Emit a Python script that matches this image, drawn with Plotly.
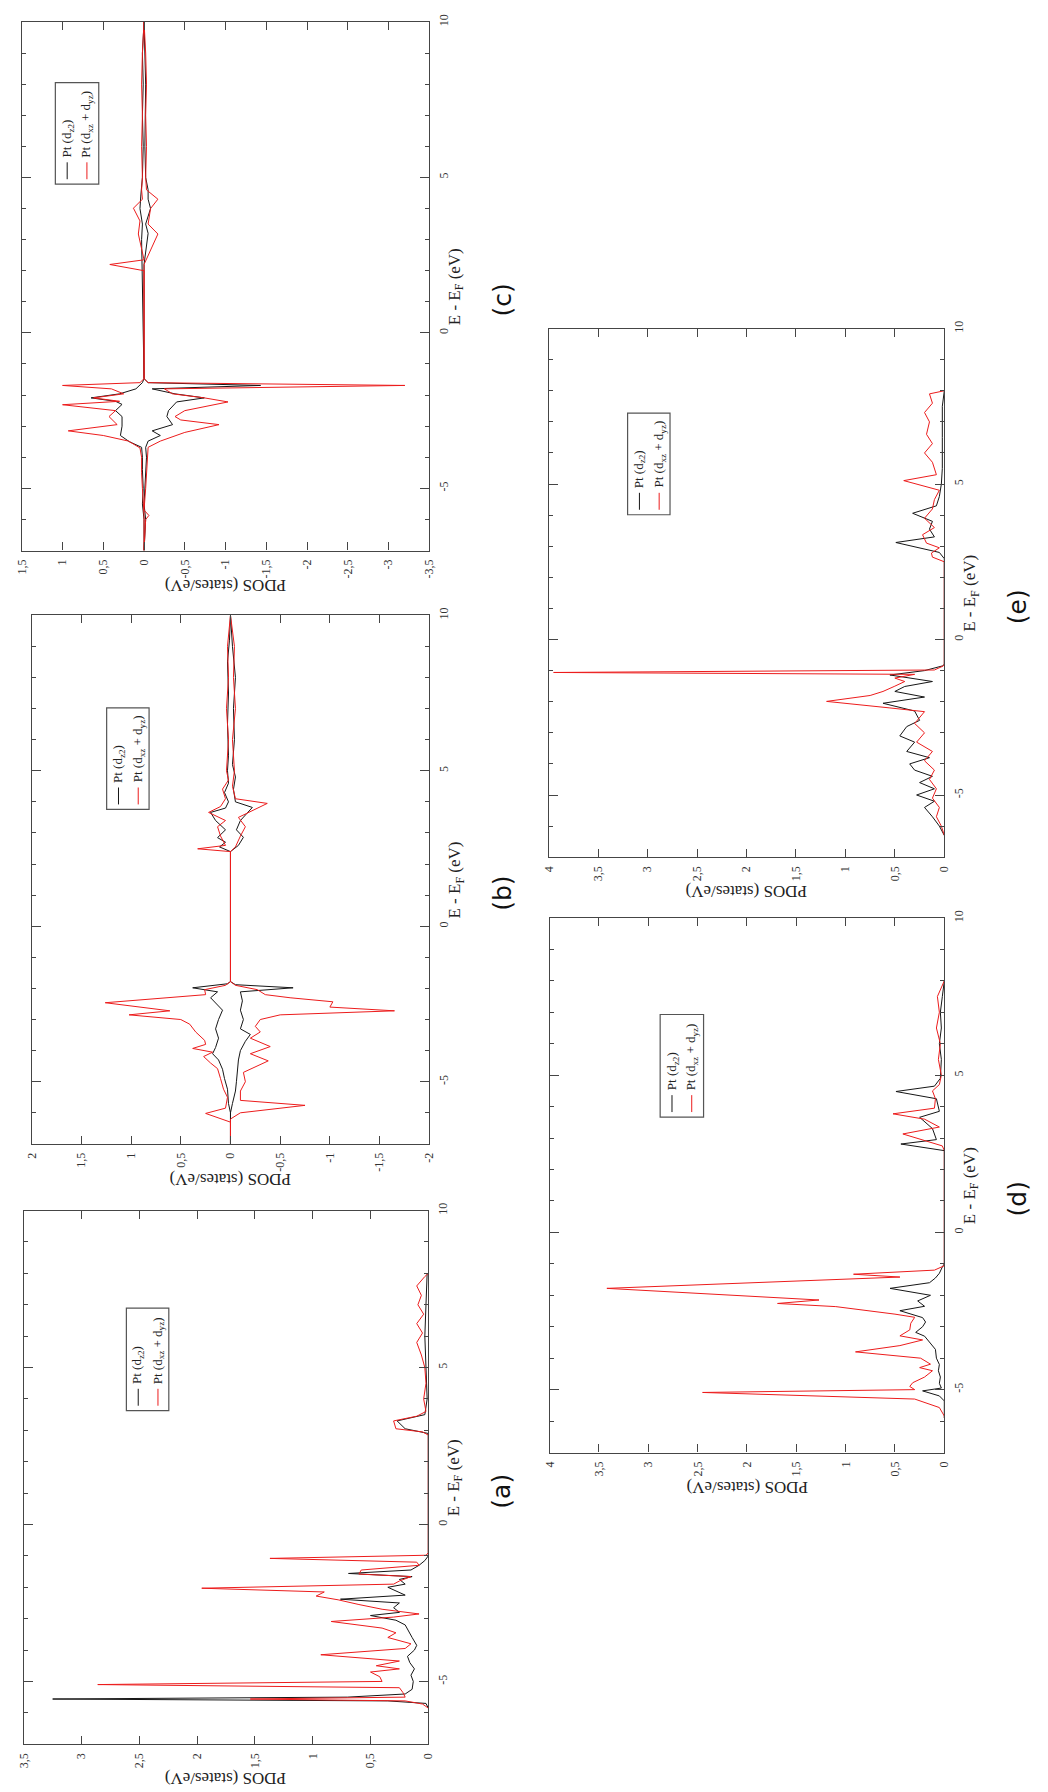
import plotly.graph_objects as go

W, H = 1048, 1792

# ---------------- data (energy E - E_F in eV, PDOS in states/eV) ----------------
# panel (a)
a_dz2 = [(-5.85, 0.0), (-5.70, 0.02), (-5.62, 0.35), (-5.56, 3.25), (-5.50, 0.7), (-5.40, 0.2), (-5.25, 0.14),
         (-5.00, 0.13), (-4.80, 0.15), (-4.60, 0.12), (-4.40, 0.16), (-4.20, 0.18), (-4.00, 0.12), (-3.85, 0.10),
         (-3.60, 0.14), (-3.40, 0.17), (-3.20, 0.20), (-3.05, 0.28), (-2.90, 0.50), (-2.80, 0.25), (-2.65, 0.30),
         (-2.50, 0.25), (-2.38, 0.76), (-2.25, 0.20), (-2.10, 0.30), (-2.00, 0.35), (-1.90, 0.20), (-1.75, 0.25),
         (-1.66, 0.14), (-1.56, 0.69), (-1.45, 0.15), (-1.30, 0.08), (-1.15, 0.03), (-1.00, 0.0), (2.90, 0.0),
         (3.05, 0.20), (3.30, 0.27), (3.50, 0.03), (4.00, 0.01), (5.00, 0.02), (6.00, 0.03), (7.00, 0.02), (8.00, 0.01)]
a_dxz = [(-5.85, 0.0), (-5.72, 0.05), (-5.62, 0.2), (-5.56, 1.54), (-5.50, 0.2), (-5.35, 0.22), (-5.2, 0.25),
         (-5.1, 2.86), (-5.0, 0.4), (-4.85, 0.42), (-4.7, 0.5), (-4.6, 0.25), (-4.5, 0.45), (-4.35, 0.25),
         (-4.15, 0.93), (-3.95, 0.2), (-3.8, 0.15), (-3.6, 0.35), (-3.45, 0.28), (-3.3, 0.4), (-3.09, 0.84),
         (-2.95, 0.3), (-2.85, 0.08), (-2.7, 0.4), (-2.55, 0.6), (-2.4, 0.78), (-2.28, 0.97), (-2.15, 0.9),
         (-2.03, 1.96), (-1.9, 0.3), (-1.8, 0.25), (-1.66, 0.15), (-1.58, 0.6), (-1.45, 0.58), (-1.3, 0.08),
         (-1.2, 0.1), (-1.08, 1.37), (-0.98, 0.02), (-0.9, 0.0), (2.85, 0.0), (2.95, 0.05), (3.05, 0.28),
         (3.3, 0.3), (3.45, 0.1), (3.6, 0.02), (4.0, 0.04), (4.5, 0.02), (5.0, 0.03), (5.4, 0.06), (5.8, 0.1),
         (6.1, 0.05), (6.4, 0.1), (6.7, 0.04), (7.0, 0.09), (7.3, 0.06), (7.6, 0.1), (7.9, 0.03), (8.0, 0.0)]

# panel (b)  (spin up > 0, spin down < 0)
b_dz2_up = [(-7.0, 0.0), (-6.0, 0.0), (-5.7, 0.02), (-5.24, 0.03), (-4.9, 0.06), (-4.6, 0.08), (-4.3, 0.12),
            (-4.1, 0.18), (-3.9, 0.15), (-3.6, 0.12), (-3.3, 0.15), (-3.0, 0.12), (-2.7, 0.08), (-2.45, 0.15),
            (-2.3, 0.2), (-2.11, 0.13), (-1.98, 0.38), (-1.85, 0.03), (-1.78, 0.0), (2.4, 0.0), (2.55, 0.11),
            (2.7, 0.05), (2.85, 0.13), (3.1, 0.05), (3.4, 0.15), (3.66, 0.2), (3.8, 0.05), (4.0, 0.02),
            (4.3, 0.06), (4.6, 0.02), (5.0, 0.03), (5.5, 0.02), (6.5, 0.03), (7.5, 0.02), (8.5, 0.03),
            (9.2, 0.01), (10.0, 0.0)]
b_dz2_dn = [(-7.0, 0.0), (-6.0, 0.0), (-5.7, -0.02), (-5.3, -0.05), (-5.0, -0.06), (-4.6, -0.07), (-4.3, -0.08),
            (-4.0, -0.1), (-3.7, -0.15), (-3.48, -0.2), (-3.3, -0.1), (-3.0, -0.13), (-2.7, -0.1), (-2.4, -0.12),
            (-2.11, -0.1), (-1.98, -0.63), (-1.88, -0.05), (-1.78, 0.0), (2.4, 0.0), (2.6, -0.08), (2.86, -0.13),
            (3.1, -0.06), (3.4, -0.1), (3.82, -0.22), (4.0, -0.05), (4.4, -0.03), (4.8, -0.05), (5.2, -0.02),
            (6.0, -0.04), (7.0, -0.03), (8.0, -0.05), (9.0, -0.02), (10.0, 0.0)]
b_dxz_up = [(-7.0, 0.0), (-6.3, 0.0), (-6.02, 0.25), (-5.85, 0.05), (-5.5, 0.03), (-5.24, 0.07), (-4.9, 0.1),
            (-4.58, 0.13), (-4.4, 0.2), (-4.19, 0.27), (-4.05, 0.18), (-3.93, 0.38), (-3.8, 0.25), (-3.67, 0.26),
            (-3.4, 0.35), (-3.15, 0.41), (-3.0, 0.5), (-2.85, 1.02), (-2.72, 0.61), (-2.46, 1.26), (-2.2, 0.25),
            (-2.04, 0.26), (-1.9, 0.05), (-1.78, 0.0), (2.4, 0.0), (2.49, 0.33), (2.6, 0.05), (2.9, 0.1),
            (3.2, 0.13), (3.4, 0.05), (3.66, 0.22), (3.85, 0.1), (4.1, 0.05), (4.41, 0.08), (4.7, 0.02),
            (5.0, 0.04), (6.0, 0.02), (7.0, 0.04), (8.0, 0.02), (9.0, 0.03), (10.0, 0.0)]
b_dxz_dn = [(-7.0, 0.0), (-6.2, 0.0), (-6.0, -0.1), (-5.76, -0.75), (-5.6, -0.1), (-5.3, -0.1), (-5.0, -0.15),
            (-4.7, -0.13), (-4.33, -0.38), (-4.1, -0.2), (-3.87, -0.4), (-3.6, -0.2), (-3.4, -0.3), (-3.22, -0.25),
            (-3.0, -0.3), (-2.85, -0.5), (-2.72, -1.65), (-2.6, -1.0), (-2.43, -1.03), (-2.3, -0.6), (-2.2, -0.35),
            (-2.04, -0.27), (-1.9, -0.05), (-1.78, 0.0), (2.4, 0.0), (2.55, -0.05), (2.9, -0.1), (3.2, -0.15),
            (3.5, -0.08), (3.95, -0.37), (4.1, -0.05), (4.5, -0.02), (5.0, -0.04), (6.0, -0.02), (7.0, -0.05),
            (8.0, -0.03), (9.0, -0.04), (10.0, 0.0)]

# panel (c)
c_dz2_up = [(-7.0, 0.0), (-6.0, 0.0), (-5.5, 0.02), (-5.0, 0.01), (-4.4, 0.02), (-4.0, 0.02), (-3.68, 0.03),
            (-3.5, 0.18), (-3.3, 0.29), (-3.0, 0.27), (-2.69, 0.27), (-2.5, 0.35), (-2.3, 0.27), (-2.2, 0.35),
            (-2.09, 0.65), (-1.96, 0.3), (-1.8, 0.1), (-1.6, 0.02), (-1.47, 0.0), (2.2, 0.02), (3.0, 0.03),
            (3.5, 0.02), (4.0, 0.05), (4.4, 0.04), (5.0, 0.02), (6.0, 0.01), (7.0, 0.02), (8.0, 0.01),
            (9.0, 0.02), (10.0, 0.0)]
c_dz2_dn = [(-7.0, 0.0), (-6.0, -0.02), (-5.5, 0.0), (-4.5, -0.02), (-4.0, -0.03), (-3.68, -0.02), (-3.48, -0.05),
            (-3.3, -0.2), (-3.15, -0.1), (-2.95, -0.35), (-2.69, -0.28), (-2.5, -0.3), (-2.22, -0.4), (-2.09, -0.74),
            (-1.96, -0.38), (-1.8, -0.1), (-1.69, -1.43), (-1.6, -0.05), (-1.47, 0.0), (2.2, 0.0), (3.2, -0.05),
            (3.5, -0.02), (4.0, -0.08), (4.3, -0.05), (4.6, -0.05), (5.0, -0.02), (6.0, -0.01), (8.0, -0.02),
            (10.0, 0.0)]
c_dxz_up = [(-7.0, 0.0), (-6.2, 0.0), (-5.87, 0.0), (-5.0, 0.02), (-4.5, 0.03), (-4.0, 0.03), (-3.7, 0.05),
            (-3.48, 0.19), (-3.3, 0.5), (-3.15, 0.93), (-2.95, 0.33), (-2.69, 0.43), (-2.5, 0.35), (-2.31, 1.0),
            (-2.2, 0.3), (-2.09, 0.62), (-1.96, 0.25), (-1.8, 0.4), (-1.69, 1.0), (-1.6, 0.05), (-1.47, 0.0),
            (2.0, 0.0), (2.2, 0.42), (2.35, 0.0), (3.18, 0.07), (3.6, 0.05), (4.01, 0.13), (4.3, 0.02),
            (4.6, 0.03), (5.0, 0.02), (6.0, 0.03), (7.0, 0.02), (8.0, 0.03), (9.0, 0.02), (10.0, 0.0)]
c_dxz_dn = [(-7.0, 0.0), (-6.0, -0.02), (-5.87, -0.06), (-5.7, 0.0), (-5.0, -0.02), (-4.5, -0.03), (-4.0, -0.04),
            (-3.68, -0.05), (-3.48, -0.2), (-3.2, -0.5), (-2.95, -0.92), (-2.8, -0.45), (-2.69, -0.38),
            (-2.5, -0.5), (-2.22, -1.03), (-2.09, -0.74), (-1.96, -0.35), (-1.8, -0.25), (-1.69, -3.2),
            (-1.6, -0.05), (-1.47, 0.0), (2.2, 0.0), (3.18, -0.17), (3.5, -0.05), (4.0, -0.08), (4.3, -0.17),
            (4.6, -0.03), (5.0, -0.02), (6.0, -0.03), (7.0, -0.02), (8.0, -0.03), (9.0, -0.02), (10.0, 0.0)]

# panel (d)
d_dz2 = [(-5.9, 0.0), (-5.36, 0.0), (-5.2, 0.05), (-5.04, 0.22), (-4.95, 0.03), (-4.8, 0.05), (-4.6, 0.04),
         (-4.4, 0.06), (-4.2, 0.05), (-4.0, 0.08), (-3.72, 0.09), (-3.5, 0.15), (-3.3, 0.2), (-3.18, 0.29),
         (-3.0, 0.22), (-2.85, 0.19), (-2.71, 0.22), (-2.49, 0.45), (-2.35, 0.2), (-2.18, 0.27), (-2.0, 0.14),
         (-1.78, 0.55), (-1.6, 0.15), (-1.45, 0.09), (-1.3, 0.05), (-1.1, 0.02), (-1.0, 0.0), (2.6, 0.0),
         (2.81, 0.44), (2.95, 0.08), (3.3, 0.12), (3.66, 0.25), (3.85, 0.05), (4.25, 0.08), (4.48, 0.49),
         (4.65, 0.1), (4.9, 0.04), (5.5, 0.03), (6.0, 0.05), (6.5, 0.03), (7.0, 0.04), (7.5, 0.02), (8.0, 0.0)]
d_dxz = [(-5.9, 0.0), (-5.84, 0.0), (-5.57, 0.05), (-5.3, 0.3), (-5.09, 2.45), (-5.0, 0.3), (-4.9, 0.35),
         (-4.78, 0.32), (-4.6, 0.2), (-4.4, 0.12), (-4.3, 0.25), (-4.19, 0.14), (-4.0, 0.24), (-3.8, 0.9),
         (-3.6, 0.45), (-3.42, 0.22), (-3.29, 0.45), (-3.1, 0.35), (-2.89, 0.34), (-2.7, 0.3), (-2.6, 0.5),
         (-2.36, 1.1), (-2.26, 1.69), (-2.15, 1.27), (-1.78, 3.42), (-1.42, 0.45), (-1.33, 0.92), (-1.2, 0.1),
         (-1.06, 0.0), (2.6, 0.0), (2.75, 0.02), (2.87, 0.15), (3.13, 0.42), (3.35, 0.05), (3.6, 0.2),
         (3.77, 0.52), (3.95, 0.1), (4.25, 0.09), (4.5, 0.12), (4.7, 0.05), (5.0, 0.03), (5.5, 0.06),
         (6.0, 0.04), (6.5, 0.08), (7.0, 0.05), (7.5, 0.07), (8.0, 0.0)]

# panel (e)
e_dz2 = [(-6.3, 0.0), (-6.0, 0.05), (-5.7, 0.12), (-5.4, 0.2), (-5.2, 0.1), (-5.0, 0.28), (-4.8, 0.1),
         (-4.6, 0.25), (-4.4, 0.12), (-4.2, 0.3), (-4.0, 0.35), (-3.8, 0.15), (-3.6, 0.38), (-3.3, 0.3),
         (-3.1, 0.45), (-2.8, 0.38), (-2.6, 0.25), (-2.3, 0.3), (-2.05, 0.62), (-1.85, 0.2), (-1.67, 0.5),
         (-1.51, 0.4), (-1.35, 0.12), (-1.14, 0.55), (-1.0, 0.2), (-0.85, 0.02), (-0.8, 0.0), (2.6, 0.0),
         (2.8, 0.05), (3.12, 0.49), (3.3, 0.1), (3.55, 0.15), (3.8, 0.12), (4.06, 0.32), (4.3, 0.08),
         (4.6, 0.05), (5.0, 0.03), (5.5, 0.02), (6.5, 0.02), (7.5, 0.02), (8.0, 0.0)]
e_dxz = [(-6.3, 0.0), (-6.0, 0.03), (-5.7, 0.08), (-5.4, 0.05), (-5.1, 0.12), (-4.8, 0.08), (-4.5, 0.15),
         (-4.2, 0.1), (-3.9, 0.2), (-3.6, 0.12), (-3.3, 0.28), (-3.0, 0.2), (-2.7, 0.3), (-2.32, 0.2),
         (-2.2, 0.55), (-1.99, 1.19), (-1.8, 0.75), (-1.67, 0.62), (-1.5, 0.5), (-1.35, 0.4), (-1.24, 0.5),
         (-1.12, 0.3), (-1.06, 3.95), (-0.98, 0.1), (-0.85, 0.01), (-0.8, 0.0), (2.5, 0.0), (2.65, 0.12),
         (2.78, 0.13), (2.95, 0.05), (3.1, 0.18), (3.37, 0.22), (3.6, 0.1), (3.9, 0.2), (4.2, 0.12),
         (4.5, 0.1), (4.8, 0.05), (5.11, 0.41), (5.3, 0.08), (5.7, 0.12), (6.0, 0.2), (6.3, 0.12),
         (6.6, 0.18), (7.0, 0.15), (7.3, 0.2), (7.6, 0.12), (7.9, 0.15), (8.0, 0.0)]

pdos_ticks_a = [0, 0.5, 1, 1.5, 2, 2.5, 3, 3.5]
pdos_ticks_b = [-2, -1.5, -1, -0.5, 0, 0.5, 1, 1.5, 2]
pdos_ticks_c = [-3.5, -3, -2.5, -2, -1.5, -1, -0.5, 0, 0.5, 1, 1.5]
pdos_ticks_de = [0, 0.5, 1, 1.5, 2, 2.5, 3, 3.5, 4]
energy_ticks = [-5, 0, 5, 10]
energy_minor = [-6, -4, -3, -2, -1, 1, 2, 3, 4, 6, 7, 8, 9]

labels = ["(a)", "(b)", "(c)", "(d)", "(e)"]
legend_names = ["Pt (d<sub>z2</sub>)", "Pt (d<sub>xz</sub> + d<sub>yz</sub>)"]

# ---------------- layout (pixel boxes of the rotated panels) ----------------
BLACK = "#161616"
RED = "#ec1c1c"
AX = "#454545"
SERIF = "Liberation Serif, Times New Roman, serif"

panels = [
    dict(L=17, R=427, T=1208, B=1744, xr=[3.5, 0], xt=pdos_ticks_a, black=[a_dz2], red=[a_dxz],
         leg=(121, 164, 1306, 1409)),
    dict(L=25, R=428, T=610, B=1141, xr=[2, -2], xt=pdos_ticks_b, black=[b_dz2_up, b_dz2_dn],
         red=[b_dxz_up, b_dxz_dn], leg=(101, 144, 703, 805)),
    dict(L=15, R=428, T=14, B=545, xr=[1.5, -3.5], xt=pdos_ticks_c, black=[c_dz2_up, c_dz2_dn],
         red=[c_dxz_up, c_dxz_dn], leg=(49, 93, 75, 177)),
    dict(L=550, R=950, T=914, B=1451, xr=[4, 0], xt=pdos_ticks_de, black=[d_dz2], red=[d_dxz],
         leg=(662, 706, 1011, 1114)),
    dict(L=549, R=950, T=322, B=853, xr=[4, 0], xt=pdos_ticks_de, black=[e_dz2], red=[e_dxz],
         leg=(629, 672, 407, 509)),
]


def fx(x):
    return x / W


def fy(y):
    return 1 - y / H


def fmt(v):
    return ("%g" % v).replace(".", ",")


fig = go.Figure()
annotations = []
shapes = []
layout_axes = {}

for i, p in enumerate(panels, start=1):
    sx = "" if i == 1 else str(i)
    xa, ya = "x" + sx, "y" + sx
    for series, col in ((p["black"], BLACK), (p["red"], RED)):
        for s in series:
            fig.add_trace(go.Scatter(
                x=[v for e, v in s], y=[e for e, v in s], mode="lines",
                line=dict(color=col, width=1), xaxis=xa, yaxis=ya,
                hoverinfo="skip", showlegend=False))

    layout_axes["xaxis" + sx] = dict(
        domain=[fx(p["L"]), fx(p["R"])], range=p["xr"], anchor=ya,
        tickmode="array", tickvals=p["xt"], ticktext=[fmt(v) for v in p["xt"]],
        ticks="inside", ticklen=8, tickwidth=1, tickcolor=AX,
        showline=True, linecolor=AX, linewidth=1.3, mirror="ticks",
        tickangle=-90, tickfont=dict(family=SERIF, size=12, color="#333"),
        ticklabelstandoff=3,
        showgrid=False, zeroline=False, fixedrange=True)
    layout_axes["yaxis" + sx] = dict(
        domain=[fy(p["B"]), fy(p["T"])], range=[-7, 10], anchor=xa, side="right",
        tickmode="array", tickvals=energy_ticks, ticktext=[fmt(v) for v in energy_ticks],
        ticks="inside", ticklen=9, tickwidth=1, tickcolor=AX,
        minor=dict(tickmode="array", tickvals=energy_minor, ticks="inside", ticklen=4,
                   tickwidth=1, tickcolor=AX),
        showline=True, linecolor=AX, linewidth=1.3, mirror="ticks",
        tickangle=-90, tickfont=dict(family=SERIF, size=12, color="#333"),
        ticklabelstandoff=3,
        showgrid=False, zeroline=False, fixedrange=True)

    cx = (p["L"] + p["R"]) / 2
    cy = (p["T"] + p["B"]) / 2
    # axis titles (rotated like the reference)
    annotations.append(dict(x=fx(cx), y=fy(p["B"] + 35), xref="paper", yref="paper",
                            text="PDOS (states/eV)", textangle=180, showarrow=False,
                            xanchor="center", yanchor="middle",
                            font=dict(family=SERIF, size=17, color="#222")))
    annotations.append(dict(x=fx(p["R"] + 27), y=fy(cy), xref="paper", yref="paper",
                            text="E - E<sub>F</sub> (eV)", textangle=-90, showarrow=False,
                            xanchor="center", yanchor="middle",
                            font=dict(family=SERIF, size=17, color="#222")))
    annotations.append(dict(x=fx(p["R"] + 74), y=fy(cy + 14), xref="paper", yref="paper",
                            text=labels[i - 1], textangle=-90, showarrow=False,
                            xanchor="center", yanchor="middle",
                            font=dict(family="DejaVu Sans", size=25, color="#111")))

    # legend box drawn by hand (rotated)
    lx0, lx1, ly0, ly1 = p["leg"]
    shapes.append(dict(type="rect", xref="paper", yref="paper",
                       x0=fx(lx0), x1=fx(lx1), y0=fy(ly1), y1=fy(ly0),
                       line=dict(color="#555", width=1.2), fillcolor="rgba(0,0,0,0)"))
    for k, (col, name) in enumerate(((BLACK, legend_names[0]), (RED, legend_names[1]))):
        lx = lx0 + 12 + 20 * k
        shapes.append(dict(type="line", xref="paper", yref="paper",
                           x0=fx(lx), x1=fx(lx), y0=fy(ly1 - 5), y1=fy(ly1 - 22),
                           line=dict(color=col, width=1)))
        annotations.append(dict(x=fx(lx), y=fy(ly1 - 25), xref="paper", yref="paper",
                                text=name, textangle=-90, showarrow=False,
                                xanchor="center", yanchor="bottom",
                                font=dict(family=SERIF, size=13, color="#222")))

fig.update_layout(
    width=W, height=H, autosize=False,
    margin=dict(l=0, r=0, t=0, b=0, pad=0),
    paper_bgcolor="white", plot_bgcolor="white",
    showlegend=False, annotations=annotations, shapes=shapes,
    font=dict(family=SERIF, color="#222"),
    **layout_axes)

fig.write_html("out.html")
